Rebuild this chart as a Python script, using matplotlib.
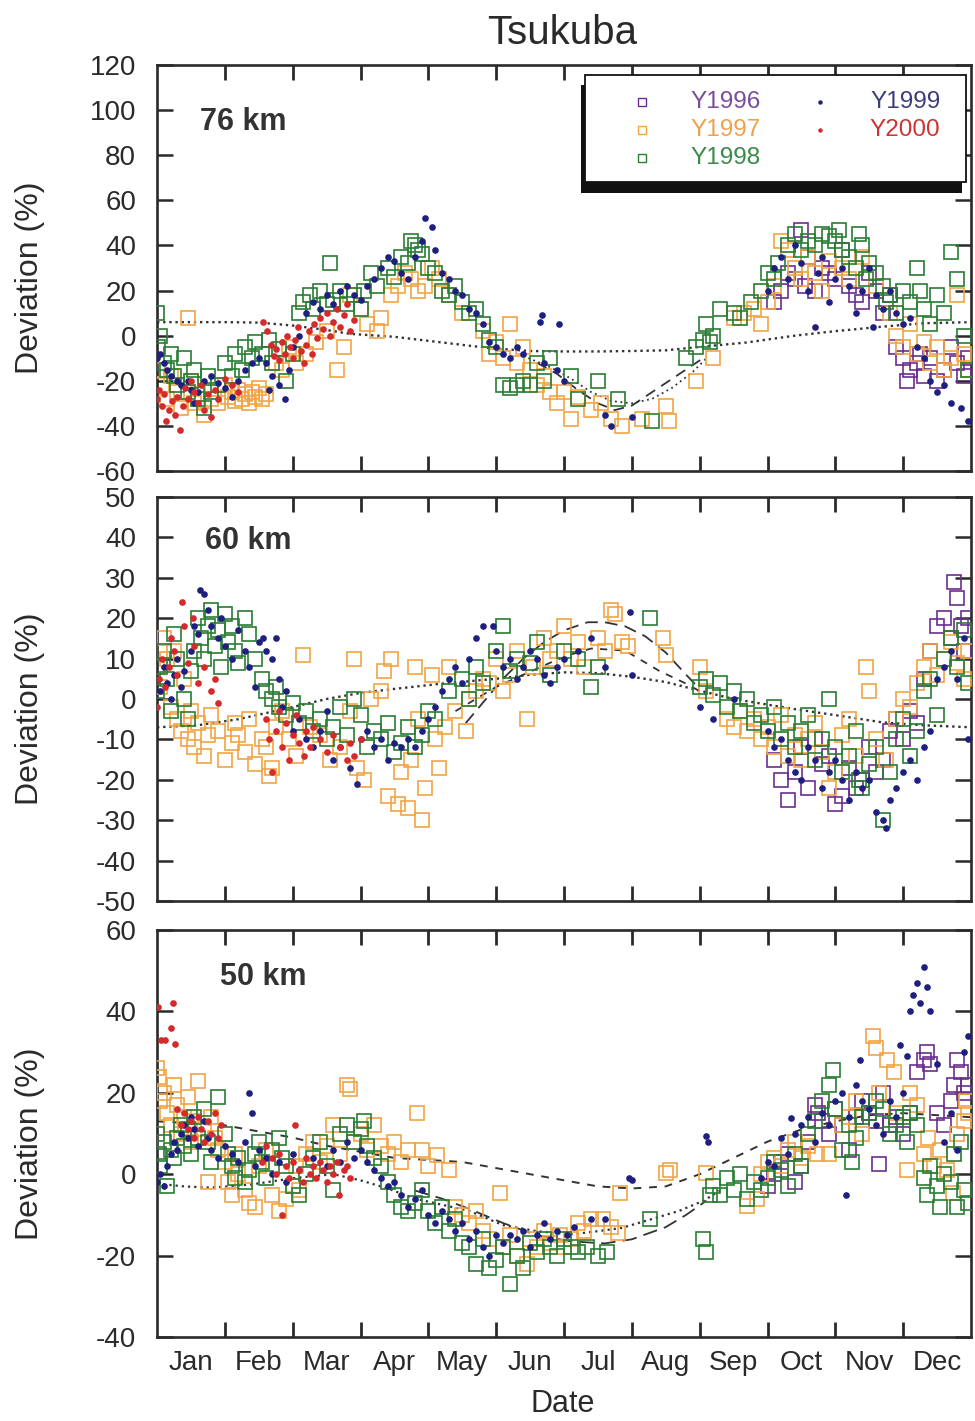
import matplotlib
matplotlib.use('Agg')
import matplotlib.pyplot as plt
from matplotlib.patches import Rectangle

plt.rcParams['font.family'] = ['Liberation Sans', 'DejaVu Sans']
plt.rcParams['axes.unicode_minus'] = False

# ---------------- labels ----------------
months = ['Jan', 'Feb', 'Mar', 'Apr', 'May', 'Jun', 'Jul', 'Aug', 'Sep', 'Oct', 'Nov', 'Dec']
years = ['Y1996', 'Y1997', 'Y1998', 'Y1999', 'Y2000']
panel_names = ['76 km', '60 km', '50 km']
yticks_76 = [-60, -40, -20, 0, 20, 40, 60, 80, 100, 120]
yticks_60 = [-50, -40, -30, -20, -10, 0, 10, 20, 30, 40, 50]
yticks_50 = [-40, -20, 0, 20, 40, 60]

# ---------------- 76 km (x = month, y = deviation %) ----------------
km76_y1996 = [(9.1,15),(9.2,20),(9.3,28),(9.4,25),(9.5,47),(9.55,22),(9.6,35),(9.7,20),(9.8,30),(9.9,28),
              (10.0,25),(10.1,38),(10.2,22),(10.3,18),(10.4,15),(10.5,28),(10.6,20),(10.7,10),(10.8,18),
              (10.9,-5),(11.0,-10),(11.05,-20),(11.1,-15),(11.2,-12),(11.25,-8),(11.3,-18),(11.4,-10),
              (11.5,-20),(11.6,-15),(11.7,-5),(11.8,-12),(11.9,-18),(11.95,-10)]
km76_y1997 = [(0.02,-15),(0.08,-22),(0.15,-28),(0.2,-18),(0.3,-25),(0.35,-32),(0.45,8),(0.5,-20),(0.55,-30),
              (0.6,-26),(0.7,-35),(0.8,-28),(0.9,-30),(1.0,-22),(1.05,-27),(1.1,-25),(1.15,-29),(1.2,-24),
              (1.25,-28),(1.3,-26),(1.35,-30),(1.4,-25),(1.45,-27),(1.5,-23),(1.55,-28),(1.6,-26),(1.75,-12),
              (1.85,-15),(1.95,-5),(2.05,-12),(2.2,-8),(2.35,-3),(2.5,2),(2.65,-15),(2.75,-5),(2.85,18),
              (3.0,12),(3.1,5),(3.25,2),(3.3,8),(3.45,18),(3.55,22),(3.65,28),(3.75,25),(3.85,20),(3.95,22),
              (4.05,30),(4.15,25),(4.3,18),(4.5,10),(4.8,2),(4.9,-8),(5.0,-3),(5.1,-10),(5.2,5),(5.3,-12),
              (5.4,-5),(5.5,-15),(5.6,-22),(5.7,-18),(5.8,-25),(5.9,-30),(6.0,-25),(6.1,-37),(6.2,-27),
              (6.4,-33),(6.55,-30),(6.7,-37),(6.85,-40),(7.15,-37),(7.5,-31),(7.55,-38),(7.95,-20),(8.2,-10),
              (8.5,8),(8.65,10),(8.8,12),(8.9,5),(9.0,15),(9.1,22),(9.2,42),(9.3,38),(9.4,30),(9.5,25),
              (9.6,35),(9.7,28),(9.8,20),(9.9,33),(10.1,30),(10.2,25),(10.4,35),(10.6,22),(10.8,10),(10.9,0),
              (11.0,-5),(11.1,5),(11.2,-8),(11.3,-3),(11.4,-12),(11.5,-5),(11.6,-15),(11.7,-10),(11.8,18),
              (11.9,-8),(11.95,-15)]
km76_y1998 = [(0.0,10),(0.02,-5),(0.05,0),(0.1,-12),(0.15,-15),(0.2,-8),(0.25,-18),(0.3,-22),(0.4,-10),
              (0.45,-25),(0.5,-20),(0.55,-15),(0.6,-28),(0.7,-32),(0.75,-18),(0.8,-25),(0.9,-22),(1.0,-12),
              (1.1,-18),(1.15,-8),(1.25,-15),(1.3,-5),(1.4,-10),(1.45,-3),(1.55,-8),(1.65,-2),(1.7,-12),
              (1.8,-6),(1.9,-20),(2.0,-8),(2.1,10),(2.15,15),(2.25,18),(2.3,12),(2.4,20),(2.5,14),(2.55,32),
              (2.6,16),(2.7,20),(2.8,14),(2.9,18),(3.0,12),(3.05,20),(3.15,28),(3.25,22),(3.4,30),(3.5,26),
              (3.6,35),(3.7,32),(3.75,42),(3.8,40),(3.85,38),(3.9,36),(4.0,30),(4.1,28),(4.2,20),(4.3,18),
              (4.4,22),(4.5,15),(4.6,10),(4.7,12),(4.8,5),(4.9,-2),(5.0,-5),(5.1,-22),(5.2,-23),(5.3,-22),
              (5.4,-20),(5.5,-22),(5.6,-12),(5.7,-20),(5.8,-10),(6.1,-18),(6.2,-28),(6.5,-20),(6.8,-28),
              (7.3,-38),(7.8,-10),(7.95,-5),(8.05,-2),(8.1,5),(8.15,-3),(8.2,0),(8.3,12),(8.5,10),(8.6,8),
              (8.75,15),(8.9,20),(9.0,28),(9.1,25),(9.15,32),(9.3,40),(9.4,45),(9.5,38),(9.6,42),(9.7,40),
              (9.8,45),(9.9,44),(10.0,42),(10.05,47),(10.1,38),(10.2,35),(10.3,30),(10.35,45),(10.4,40),
              (10.45,25),(10.5,32),(10.6,28),(10.7,22),(10.75,15),(10.8,18),(10.9,10),(11.0,20),(11.1,15),
              (11.2,30),(11.25,20),(11.3,12),(11.4,5),(11.5,18),(11.6,10),(11.7,37),(11.8,25),(11.9,0),
              (11.95,-15)]
km76_y1999 = [(0.0,-10),(0.05,-8),(0.1,-12),(0.15,-15),(0.2,-18),(0.3,-20),(0.35,-22),(0.45,-20),(0.5,-24),
              (0.55,-30),(0.6,-25),(0.7,-20),(0.8,-18),(0.9,-21),(1.0,-23),(1.1,-27),(1.2,-20),(1.3,-15),
              (1.4,-12),(1.5,-10),(1.6,-12),(1.65,-24),(1.7,-18),(1.8,-22),(1.89,-28),(1.95,-15),(2.0,-5),
              (2.1,0),(2.2,10),(2.3,15),(2.4,12),(2.5,18),(2.6,14),(2.7,20),(2.8,22),(2.9,18),(3.0,16),
              (3.1,22),(3.2,25),(3.3,30),(3.4,35),(3.5,33),(3.6,28),(3.7,25),(3.8,35),(3.9,42),(3.95,52),
              (4.05,48),(4.1,38),(4.2,28),(4.3,25),(4.4,20),(4.5,18),(4.6,12),(4.7,10),(4.8,5),(4.9,-3),
              (5.0,-5),(5.1,-8),(5.2,-10),(5.3,-5),(5.4,-8),(5.65,6),(5.68,9),(5.7,-12),(5.92,5),(5.9,-15),
              (6.0,-20),(6.6,-35),(6.7,-40),(7.0,-36),(9.0,20),(9.1,30),(9.2,35),(9.3,25),(9.4,40),(9.5,32),
              (9.6,20),(9.7,4),(9.75,28),(9.8,35),(9.9,15),(10.0,25),(10.1,30),(10.2,22),(10.3,10),(10.4,20),
              (10.5,30),(10.55,4),(10.6,18),(10.7,12),(10.8,20),(10.9,10),(11.0,5),(11.1,8),(11.2,-5),
              (11.3,-10),(11.4,-20),(11.5,-25),(11.6,-22),(11.7,-30),(11.85,-32),(11.95,-38)]
km76_y2000 = [(0.0,-28),(0.03,-24),(0.07,-31),(0.1,-26),(0.14,-38),(0.18,-33),(0.22,-29),(0.26,-35),
              (0.3,-27),(0.34,-42),(0.38,-31),(0.42,-23),(0.46,-28),(0.5,-20),(0.55,-25),(0.6,-30),(0.65,-22),
              (0.7,-33),(0.75,-26),(0.8,-36),(0.85,-24),(0.9,-28),(1.0,-19),(1.1,-22),(1.2,-25),(1.56,6),
              (1.62,2),(1.68,-4),(1.72,-9),(1.76,-6),(1.8,-11),(1.84,-3),(1.88,-8),(1.92,0),(1.96,-5),
              (2.0,-10),(2.04,-2),(2.08,4),(2.12,-7),(2.16,-12),(2.2,-4),(2.24,2),(2.28,-8),(2.32,5),
              (2.36,-1),(2.4,8),(2.45,3),(2.5,10),(2.55,0),(2.6,6),(2.65,12),(2.7,4),(2.75,9),(2.8,14),
              (2.85,2),(2.9,7)]
km76_fit_dot = [(0,6),(0.5,6),(1.0,6),(1.5,5.8),(2.0,4.5),(2.5,2.5),(2.85,0.8),(3.5,-0.5),(4.2,-3),(4.9,-5.5),
                (5.5,-6.8),(6.0,-7),(6.5,-7),(7.0,-6.8),(7.5,-6.5),(8.0,-5),(8.7,-3),(9.4,0),(10.0,2),
                (10.7,4),(11.3,5.5),(12.0,6)]
km76_fit_dash = [(5.6,-12),(5.9,-17),(6.2,-24),(6.5,-30),(6.75,-33),(7.0,-31),(7.3,-25),(7.6,-19),(7.9,-13),
                 (8.1,-9)]
km76_fit_dot2 = [(5.4,-9),(5.8,-14),(6.1,-19),(6.4,-25),(6.7,-29),(7.0,-30),(7.3,-28),(7.6,-23),(7.9,-16),
                 (8.1,-10)]

# ---------------- 60 km ----------------
km60_y1996 = [(9.1,-15),(9.2,-20),(9.3,-25),(9.4,-18),(9.5,-12),(9.6,-22),(9.7,-10),(9.8,-16),(9.9,-14),
              (10.0,-26),(10.1,-24),(10.2,-17),(10.3,-22),(10.4,-20),(10.5,-12),(10.6,-18),(10.7,-15),
              (10.8,-8),(10.9,-5),(11.0,-10),(11.1,-3),(11.2,-6),(11.3,5),(11.4,12),(11.5,18),(11.6,20),
              (11.7,15),(11.75,29),(11.8,25),(11.85,18),(11.9,12),(11.95,20)]
km60_y1997 = [(0.0,8),(0.05,3),(0.1,15),(0.15,10),(0.2,-2),(0.25,12),(0.3,-5),(0.35,-8),(0.4,5),(0.45,-10),
              (0.5,-3),(0.55,-12),(0.6,-6),(0.7,-14),(0.75,-9),(0.8,-4),(0.9,-8),(1.0,-15),(1.1,-11),
              (1.15,-6),(1.2,-9),(1.3,-13),(1.35,-5),(1.45,-16),(1.55,-10),(1.6,-12),(1.65,-19),(1.7,-17),
              (1.75,-7),(1.85,-3),(1.95,-10),(2.05,-14),(2.15,11),(2.25,-7),(2.4,-9),(2.55,-15),(2.7,-12),
              (2.85,-3),(2.9,10),(2.95,-17),(3.05,-20),(3.15,0),(3.3,2),(3.35,7),(3.4,-24),(3.45,10),
              (3.55,-26),(3.6,-18),(3.7,-27),(3.75,-15),(3.8,8),(3.85,-5),(3.9,-30),(3.95,-22),(4.05,6),
              (4.1,-10),(4.15,-17),(4.25,-7),(4.3,8),(4.4,-3),(4.55,-8),(4.6,0),(4.7,2),(4.8,5),(4.9,4),
              (5.0,10),(5.1,2),(5.2,6),(5.3,12),(5.45,-5),(5.55,8),(5.7,15),(5.8,10),(5.9,12),(6.0,18),
              (6.1,10),(6.2,14),(6.3,8),(6.5,15),(6.6,12),(6.7,22),(6.75,21),(6.85,14),(6.95,13),(7.46,15),
              (7.5,11),(8.0,8),(8.1,2),(8.4,-5),(8.5,-7),(8.6,-3),(8.7,-8),(8.8,-5),(8.9,-10),(9.0,-7),
              (9.1,-12),(9.2,-4),(9.3,-14),(9.4,-9),(9.5,-15),(9.6,-10),(9.7,-6),(9.8,-13),(9.9,-22),
              (10.0,-18),(10.1,-9),(10.2,-5),(10.3,-14),(10.45,8),(10.5,2),(10.6,-10),(10.75,-15),(10.9,-5),
              (11.0,0),(11.1,-2),(11.2,4),(11.3,8),(11.4,12),(11.5,6),(11.6,10),(11.7,14),(11.8,9),(11.9,5),
              (11.95,12)]
km60_y1998 = [(0.0,2),(0.05,8),(0.1,12),(0.15,5),(0.2,-3),(0.25,16),(0.3,10),(0.4,0),(0.45,-5),(0.5,7),
              (0.55,12),(0.6,20),(0.65,15),(0.7,10),(0.75,18),(0.8,22),(0.85,13),(0.9,17),(0.95,8),(1.0,21),
              (1.05,14),(1.1,18),(1.15,12),(1.2,9),(1.3,20),(1.35,16),(1.45,10),(1.55,5),(1.6,2),(1.7,0),
              (1.75,3),(1.8,-2),(1.9,-4),(2.0,-1),(2.1,-6),(2.2,-3),(2.3,-8),(2.4,-5),(2.5,-10),(2.6,-7),
              (2.7,-2),(2.8,-9),(2.9,0),(3.0,-4),(3.1,-12),(3.2,-8),(3.3,-10),(3.4,-6),(3.5,-13),(3.6,-11),
              (3.7,-7),(3.8,-12),(3.9,-9),(4.0,-3),(4.1,-5),(4.3,2),(4.5,5),(4.6,0),(4.7,8),(4.8,4),(5.0,12),
              (5.1,18),(5.2,7),(5.3,10),(5.5,9),(5.6,14),(5.8,6),(6.0,12),(6.2,10),(6.4,3),(6.5,8),(7.27,20),
              (8.0,3),(8.1,5),(8.2,1),(8.3,4),(8.4,-2),(8.5,2),(8.6,-3),(8.7,0),(8.8,-6),(8.9,-4),(9.0,-8),
              (9.1,-2),(9.2,-10),(9.3,-6),(9.4,-12),(9.5,-8),(9.6,-4),(9.7,-15),(9.8,-10),(9.9,0),(10.0,-12),
              (10.1,-18),(10.2,-14),(10.3,-8),(10.35,-20),(10.4,-22),(10.5,-16),(10.6,-12),(10.7,-30),
              (10.8,-18),(10.9,-10),(11.0,-5),(11.1,-14),(11.2,-8),(11.3,2),(11.4,5),(11.5,-4),(11.6,10),
              (11.7,15),(11.8,8),(11.9,17),(11.95,4)]
km60_y1999 = [(0.0,5),(0.05,2),(0.1,8),(0.15,4),(0.2,0),(0.25,6),(0.3,10),(0.35,3),(0.4,7),(0.5,12),
              (0.55,18),(0.6,16),(0.63,27),(0.7,26),(0.75,22),(0.8,18),(0.9,15),(0.95,20),(1.0,13),(1.1,10),
              (1.2,17),(1.3,12),(1.35,8),(1.45,3),(1.5,14),(1.56,15),(1.6,12),(1.7,10),(1.76,15),(1.8,5),
              (1.85,-2),(1.9,2),(2.0,-8),(2.1,-5),(2.2,-10),(2.3,-12),(2.4,-8),(2.5,-3),(2.6,-15),(2.7,-12),
              (2.85,-17),(2.95,-21),(3.0,-10),(3.1,-8),(3.2,-12),(3.3,-10),(3.4,-15),(3.5,-11),(3.6,-12),
              (3.7,-10),(3.8,-12),(3.9,-8),(4.0,-5),(4.1,-2),(4.2,2),(4.3,5),(4.4,8),(4.5,4),(4.6,10),
              (4.7,15),(4.8,18),(4.95,18),(5.0,12),(5.1,8),(5.2,10),(5.3,5),(5.4,8),(5.5,12),(5.6,10),
              (5.7,6),(5.8,4),(5.9,8),(6.0,10),(6.2,12),(6.4,15),(6.6,8),(6.97,21.5),(7.0,6),(8.0,-2),
              (8.2,-5),(8.5,0),(9.0,-8),(9.1,-12),(9.2,-10),(9.3,-15),(9.4,-18),(9.5,-20),(9.6,-12),
              (9.7,-15),(9.8,-22),(9.9,-18),(10.0,-15),(10.1,-20),(10.2,-25),(10.3,-18),(10.4,-22),
              (10.5,-20),(10.6,-28),(10.7,-30),(10.75,-32),(10.8,-25),(10.9,-22),(11.0,-18),(11.1,-15),
              (11.2,-20),(11.3,-12),(11.4,-8),(11.5,5),(11.6,8),(11.7,12),(11.8,5),(11.9,15),(11.95,-10)]
km60_y2000 = [(0.0,-2),(0.03,5),(0.08,10),(0.12,3),(0.17,8),(0.2,15),(0.25,12),(0.3,6),(0.37,24),(0.4,18),
              (0.45,9),(0.53,20),(0.55,13),(0.6,4),(0.7,8),(0.8,2),(0.85,5),(0.9,-1),(1.6,-5),(1.65,-10),
              (1.7,-18),(1.75,-8),(1.8,-3),(1.85,-12),(1.9,-6),(1.95,-15),(2.0,-9),(2.05,-4),(2.1,-11),
              (2.16,-14),(2.2,-8),(2.25,-12),(2.3,-7),(2.4,-10),(2.5,-13),(2.6,-9),(2.7,-12),(2.8,-15),
              (2.85,-11),(2.9,-14),(3.0,-10)]
km60_fit_dot = [(0,-7),(0.6,-6.5),(1.2,-5),(2.0,-2),(2.5,0),(3.0,1.5),(3.5,2.5),(4.2,3.8),(5.0,5),(5.5,6),
                (6.0,6.6),(6.5,6.4),(7.0,5.5),(7.5,4.2),(7.9,2.5),(8.5,0),(9.4,-2.5),(10.0,-4),(10.7,-5.8),
                (11.3,-6.5),(12.0,-7)]
km60_fit_dash = [(4.55,-6),(4.8,-1),(5.1,5),(5.4,10),(5.7,14),(6.0,17),(6.35,19),(6.6,19),(6.9,18),(7.2,15.5),
                 (7.5,11.5),(7.8,6),(8.0,2.5)]
km60_fit_dash2 = [(4.4,-3),(4.7,0),(5.0,3),(5.4,6),(5.8,9),(6.1,11),(6.4,12.5),(6.9,12),(7.2,9),(7.4,7),
                  (7.8,3.8),(8.1,1)]

# ---------------- 50 km ----------------
km50_y1996 = [(9.0,-3),(9.1,0),(9.2,3),(9.3,5),(9.4,-2),(9.5,2),(9.6,8),(9.7,17),(9.75,15),(9.8,13),(9.9,10),
              (10.0,16),(10.1,12),(10.2,6),(10.3,14),(10.4,18),(10.5,15),(10.6,13),(10.65,2.6),(10.7,20),
              (10.8,12),(10.9,14),(11.0,10),(11.1,15),(11.2,25),(11.3,28),(11.35,30),(11.4,27),(11.5,15),
              (11.6,12),(11.7,18),(11.75,22),(11.8,28),(11.85,25),(11.9,20),(11.95,22)]
km50_y1997 = [(0.0,26),(0.03,24),(0.05,18),(0.1,20),(0.15,15),(0.2,12),(0.25,22),(0.3,17),(0.35,10),(0.4,14),
              (0.45,19),(0.5,8),(0.55,13),(0.6,23),(0.7,11),(0.75,-2),(0.8,14),(0.85,9),(0.9,6),(1.0,3),
              (1.05,-2),(1.1,-5),(1.15,5),(1.2,0),(1.3,-4),(1.35,-7),(1.45,-8),(1.5,2),(1.6,6),(1.7,-5),
              (1.8,-9),(1.9,-6),(2.0,-3),(2.05,2),(2.1,-4),(2.2,5),(2.3,8),(2.4,3),(2.5,7),(2.6,12),(2.7,5),
              (2.8,22),(2.85,21),(2.9,8),(3.0,10),(3.1,6),(3.2,12),(3.3,7),(3.4,5),(3.5,8),(3.6,3),(3.7,6),
              (3.83,15),(3.9,6),(4.0,2),(4.13,4.6),(4.3,1),(4.4,-8),(4.5,-10),(4.6,-12),(4.7,-9),(4.8,-14),
              (4.9,-16),(5.06,-4.5),(5.1,-18),(5.2,-15),(5.3,-20),(5.46,-22),(5.5,-16),(5.6,-18),(5.7,-14),
              (5.8,-17),(5.94,-15),(6.0,-18),(6.1,-16),(6.2,-12),(6.3,-14),(6.4,-11),(6.58,-11),(6.7,-13),
              (6.8,-14.5),(6.83,-4.5),(7.5,0.4),(7.57,1),(8.1,0.4),(8.7,-7.7),(8.85,-6),(8.9,0),(9.0,3),
              (9.1,4),(9.2,2),(9.3,6),(9.4,8),(9.5,4),(9.6,7),(9.73,5),(9.9,5),(10.1,12),(10.2,14),
              (10.3,18),(10.4,10),(10.56,34),(10.6,31),(10.65,20),(10.76,28),(10.86,25),(10.9,15),(11.06,1),
              (11.1,20),(11.2,17),(11.3,5),(11.36,9),(11.45,2),(11.55,6),(11.65,1),(11.74,-4.5),(11.8,10),
              (11.9,13),(11.93,18),(11.95,15)]
km50_y1998 = [(0.0,10),(0.03,5),(0.05,2),(0.1,8),(0.15,-3),(0.2,6),(0.25,4),(0.3,9),(0.35,12),(0.4,7),
              (0.45,11),(0.5,5),(0.55,14),(0.6,9),(0.7,16),(0.75,8),(0.8,3),(0.9,19),(1.0,10),(1.05,5),
              (1.1,2),(1.15,-1),(1.2,4),(1.3,-2),(1.35,1),(1.45,5),(1.5,8),(1.55,3),(1.6,-1),(1.7,6),(1.8,9),
              (1.85,4),(1.9,2),(2.0,-3),(2.1,-5),(2.2,0),(2.3,4),(2.4,8),(2.5,2),(2.6,-4),(2.7,10),(2.8,12),
              (2.9,8),(3.0,11),(3.05,13),(3.1,7),(3.2,4),(3.3,2),(3.4,-2),(3.5,-5),(3.6,-8),(3.7,-9),(3.8,-7),
              (3.9,-4),(4.0,-9),(4.1,-12),(4.2,-8),(4.3,-14),(4.4,-11),(4.5,-17),(4.6,-18),(4.7,-22),
              (4.8,-16),(4.9,-23),(5.0,-21),(5.1,-18),(5.2,-27),(5.3,-20),(5.4,-23),(5.5,-17),(5.6,-19),
              (5.7,-16),(5.8,-18),(5.9,-20),(6.0,-16),(6.1,-18),(6.2,-19),(6.34,-18),(6.5,-20),(6.64,-19),
              (7.27,-11),(8.05,-16),(8.1,-19),(8.15,-5),(8.2,-3),(8.3,-5),(8.4,-1),(8.5,-4),(8.6,0),
              (8.7,-6),(8.8,-2),(8.9,-4),(9.0,-1),(9.1,3),(9.2,1),(9.3,-3),(9.4,5),(9.5,2),(9.6,10),
              (9.7,13),(9.8,18),(9.9,22),(9.97,25.5),(10.0,16),(10.1,6),(10.2,12),(10.25,3),(10.3,9),
              (10.4,14),(10.5,15),(10.6,18),(10.7,16),(10.8,10),(10.9,12),(11.0,14),(11.05,8),(11.1,15),
              (11.2,12),(11.3,-1),(11.35,-5),(11.4,2),(11.5,-3),(11.55,-8),(11.6,0),(11.7,-2),(11.75,5),
              (11.8,-8),(11.85,8),(11.9,-4),(11.95,-7)]
km50_y1999 = [(0.0,-2),(0.05,0),(0.1,-3),(0.15,2),(0.2,5),(0.25,8),(0.3,6),(0.35,10),(0.4,12),(0.45,9),
              (0.5,14),(0.55,11),(0.6,7),(0.7,13),(0.75,9),(0.8,6),(0.9,4),(1.0,7),(1.1,5),(1.2,3),(1.3,8),
              (1.35,20),(1.4,15),(1.45,2),(1.5,6),(1.6,4),(1.7,0),(1.8,3),(1.9,-2),(2.0,5),(2.1,1),(2.3,4),
              (2.5,2),(2.6,6),(2.7,3),(2.8,8),(2.9,4),(3.0,6),(3.1,3),(3.2,1),(3.3,-1),(3.4,-3),(3.5,-2),
              (3.6,-5),(3.7,-8),(3.8,-6),(3.9,-4),(4.0,-10),(4.1,-12),(4.2,-9),(4.3,-11),(4.4,-14),(4.5,-12),
              (4.6,-16),(4.7,-14),(4.8,-18),(4.9,-20),(5.0,-15),(5.1,-17),(5.2,-15),(5.3,-16),(5.4,-14),
              (5.5,-18),(5.6,-15),(5.7,-12),(5.8,-16),(5.9,-14),(6.05,-15),(6.15,-13),(6.4,-11),(6.6,-11),
              (6.96,-1),(7.0,-1.5),(8.1,9.5),(8.12,8),(8.9,-1),(9.0,3),(9.1,2),(9.2,9),(9.3,5),(9.34,13.7),
              (9.4,10),(9.5,12),(9.6,14),(9.7,8),(9.8,15),(9.9,12),(10.0,18),(10.1,20),(10.15,-5),(10.2,14),
              (10.3,22),(10.37,28),(10.4,18),(10.5,16),(10.6,12),(10.7,10),(10.8,18),(10.9,14),(10.96,31.7),
              (11.0,20),(11.05,29),(11.1,40),(11.15,44),(11.2,47),(11.25,42),(11.3,51),(11.35,46),(11.4,40),
              (11.5,27),(11.6,8),(11.7,15),(11.8,6),(11.9,30),(11.95,34)]
km50_y2000 = [(0.02,41),(0.06,33),(0.12,33),(0.2,36),(0.24,42),(0.26,32),(0.3,16),(0.35,12),(0.4,15),(0.45,11),
              (0.5,13),(0.55,9),(0.6,14),(0.65,11),(0.7,8),(0.75,13),(0.8,10),(0.85,15),(0.9,9),(0.95,12),
              (1.55,3),(1.6,7),(1.7,4),(1.75,0),(1.8,5),(1.85,-10),(1.9,2),(1.95,-1),(2.0,3),(2.03,12),
              (2.1,1),(2.15,-2),(2.2,4),(2.25,0),(2.3,2),(2.35,-1),(2.4,3),(2.45,1),(2.5,-2),(2.55,2),(2.6,0),
              (2.65,3),(2.68,-5),(2.75,1),(2.8,2),(2.85,-1)]
km50_fit_dash = [(0,13),(0.5,12.5),(1.0,12),(1.5,10.5),(2.0,9),(2.5,7),(3.0,5.5),(3.5,4),(4.0,3.5),(4.5,3),
                 (5.0,1.5),(5.5,0),(6.0,-1.5),(6.5,-3),(7.0,-3.5),(7.5,-3),(8.0,0),(8.5,4),(9.0,8),(9.5,11),
                 (10.0,13),(10.5,14.5),(11.0,15),(11.5,14.5),(12.0,14)]
km50_fit_dot = [(0,-2.3),(0.4,-3),(0.8,-3.3),(1.4,-2.5),(2.0,-1),(2.6,0),(3.0,-1.5),(3.4,-3.5),(3.8,-6),
                (4.6,-9),(5.1,-12.5),(5.6,-14),(6.1,-14.8),(6.5,-14),(6.85,-13.2),(7.3,-11),(7.7,-9),
                (8.06,-6.5),(8.3,-4)]
km50_fit_longdash = [(3.8,-4),(4.2,-6),(4.6,-8.5),(5.1,-12),(5.6,-15),(6.1,-16.5),(6.6,-17),(7.0,-16),
                     (7.5,-13),(7.8,-10),(8.1,-6.5)]

# ---------------- styling ----------------
sq_colors = {'Y1996': '#6b2d90', 'Y1997': '#f2a444', 'Y1998': '#2a7d34'}
dot_colors = {'Y1999': '#1f1f80', 'Y2000': '#d42a2c'}
text_colors = {'Y1996': '#7a4c9c', 'Y1997': '#f0a04c', 'Y1998': '#3a8a48', 'Y1999': '#3c3c7c', 'Y2000': '#cc3333'}
INK = '#2a2a2a'
LINE = '#333333'

panels = [
    dict(name=panel_names[0], ylim=(-60, 120), yticks=yticks_76,
         data={'Y1996': km76_y1996, 'Y1997': km76_y1997, 'Y1998': km76_y1998, 'Y1999': km76_y1999, 'Y2000': km76_y2000},
         curves=[(km76_fit_dot, (0, (1, 1.6)), 1.7), (km76_fit_dash, (0, (6, 4)), 1.3), (km76_fit_dot2, (0, (1, 2)), 1.3)],
         pos=(157, 65, 971, 471), label_xy=(0.053, 0.86)),
    dict(name=panel_names[1], ylim=(-50, 50), yticks=yticks_60,
         data={'Y1996': km60_y1996, 'Y1997': km60_y1997, 'Y1998': km60_y1998, 'Y1999': km60_y1999, 'Y2000': km60_y2000},
         curves=[(km60_fit_dot, (0, (1, 1.6)), 1.7), (km60_fit_dash, (0, (7, 4)), 1.3), (km60_fit_dash2, (0, (4, 4)), 1.3)],
         pos=(157, 497, 971, 901), label_xy=(0.059, 0.89)),
    dict(name=panel_names[2], ylim=(-40, 60), yticks=yticks_50,
         data={'Y1996': km50_y1996, 'Y1997': km50_y1997, 'Y1998': km50_y1998, 'Y1999': km50_y1999, 'Y2000': km50_y2000},
         curves=[(km50_fit_dash, (0, (4, 4)), 1.4), (km50_fit_dot, (0, (1, 1.8)), 1.6), (km50_fit_longdash, (0, (8, 4)), 1.3)],
         pos=(157, 930, 971, 1337), label_xy=(0.077, 0.885)),
]

W, H = 975, 1421
fig = plt.figure(figsize=(W / 100, H / 100), dpi=100)

axes = []
for i, p in enumerate(panels):
    x0, y0, x1, y1 = p['pos']
    ax = fig.add_axes([x0 / W, 1 - y1 / H, (x1 - x0) / W, (y1 - y0) / H])
    axes.append(ax)
    ax.set_xlim(0, 12)
    ax.set_ylim(*p['ylim'])

    for pts, ls, lw in p['curves']:
        xs, ys = zip(*pts)
        ax.plot(xs, ys, color=LINE, ls=ls, lw=lw, zorder=2)

    for yr in ['Y1996', 'Y1997', 'Y1998']:
        xs, ys = zip(*p['data'][yr])
        ax.plot(xs, ys, ls='none', marker='s', ms=9.5, mfc='none', mec=sq_colors[yr], mew=1.2, zorder=3)
    for yr in ['Y1999', 'Y2000']:
        xs, ys = zip(*p['data'][yr])
        ax.plot(xs, ys, ls='none', marker='o', ms=4.8, mfc=dot_colors[yr], mec='none', zorder=4)

    ax.set_yticks(p['yticks'])
    ax.set_yticklabels([str(v) for v in p['yticks']])
    ax.set_xticks(list(range(1, 12)))
    ax.set_xticklabels([])
    ax.set_xticks([m + 0.5 for m in range(12)], minor=True)
    ax.set_xticklabels(months if i == 2 else [''] * 12, minor=True)
    ax.tick_params(axis='x', which='major', direction='in', length=11, width=2.0, top=True, bottom=True,
                   color=INK)
    ax.tick_params(axis='x', which='minor', length=0, labelsize=20, pad=9, labelcolor=INK,
                   labelbottom=(i == 2))
    ax.tick_params(axis='y', which='major', direction='in', length=11.5, width=1.8, left=True, right=True,
                   labelsize=20, pad=15, labelcolor=INK, color=INK)
    for s in ax.spines.values():
        s.set_linewidth(1.9)
        s.set_color(INK)

    ax.text(p['label_xy'][0], p['label_xy'][1], p['name'], transform=ax.transAxes, fontsize=22,
            fontweight='bold', color='#333333', ha='left', va='center')

    yc = 1 - ((y0 + y1) / 2 + 10) / H
    fig.text(30 / W, yc, 'Deviation (%)', rotation=90, ha='center', va='center', fontsize=23, color=INK)

# ---------------- legend (top panel) ----------------
ax = axes[0]
ax.add_patch(Rectangle((0.521, 0.685), 0.468, 0.265, transform=ax.transAxes, facecolor='#111111',
                       edgecolor='none', zorder=6))
ax.add_patch(Rectangle((0.526, 0.712), 0.468, 0.263, transform=ax.transAxes, facecolor='white',
                       edgecolor='#111111', lw=1.3, zorder=7))
rows = [0.909, 0.840, 0.771]
for yr, yy in zip(years[:3], rows):
    ax.plot([0.596], [yy], transform=ax.transAxes, ls='none', marker='s', ms=6, mfc='none',
            mec=sq_colors[yr], mew=1.0, zorder=8, clip_on=False)
    ax.text(0.698, yy, yr, transform=ax.transAxes, fontsize=17.5, color=text_colors[yr], ha='center',
            va='center', zorder=8)
for yr, yy in zip(years[3:], rows[:2]):
    ax.plot([0.815], [yy], transform=ax.transAxes, ls='none', marker='o', ms=3.2, mfc=dot_colors[yr],
            mec='none', zorder=8, clip_on=False)
    ax.text(0.919, yy, yr, transform=ax.transAxes, fontsize=17.5, color=text_colors[yr], ha='center',
            va='center', zorder=8)

fig.text(562 / W, 1 - 33 / H, 'Tsukuba', ha='center', va='center', fontsize=29, color=INK)
fig.text(563 / W, 1 - 1404 / H, 'Date', ha='center', va='center', fontsize=22, color=INK)

fig.savefig('out.png', dpi=100)
